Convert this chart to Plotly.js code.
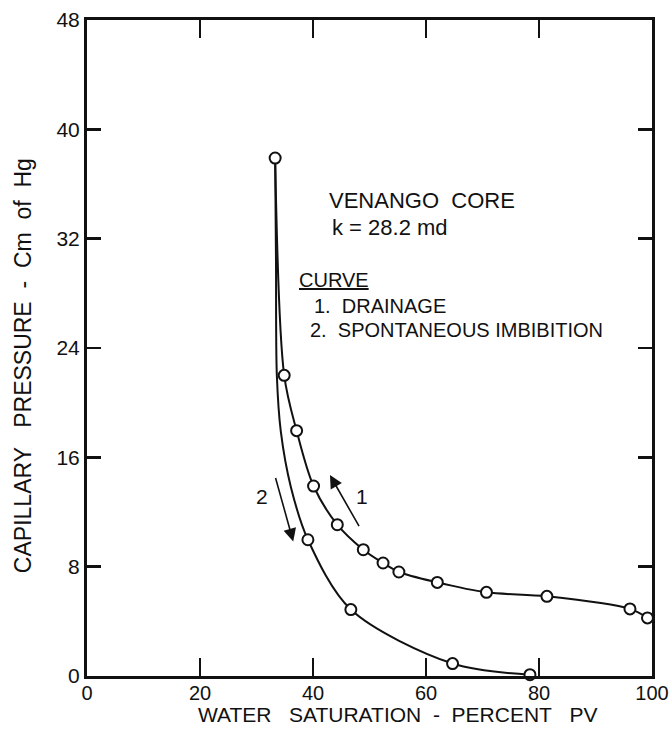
<!DOCTYPE html>
<html>
<head>
<meta charset="utf-8">
<script src="https://cdn.plot.ly/plotly-3.0.1.min.js"></script>
<style>
html,body{margin:0;padding:0;background:#fff;}
#chart{width:672px;height:730px;}
</style>
</head>
<body>
<div id="chart"></div>
<script>
// Measured points (water saturation %PV, capillary pressure cm Hg)
var drainageX = [33.3, 34.9, 37.1, 40.1, 44.3, 48.9, 52.4, 55.2, 62.0, 70.7, 81.4, 96.1, 99.2];
var drainageY = [37.9, 22.0, 17.95, 13.9, 11.07, 9.24, 8.27, 7.61, 6.85, 6.12, 5.83, 4.91, 4.25];

var imbibitionX = [39.1, 46.7, 64.7, 78.4];
var imbibitionY = [9.97, 4.86, 0.91, 0.1];

// Drawn imbibition curve
var imbCurveX = [33.3, 33.45, 33.6, 34.3, 36.1, 39.1, 46.7, 64.7, 78.4];
var imbCurveY = [37.9, 30.4, 22.0, 17.9, 13.8, 9.97, 4.86, 0.91, 0.1];

var xTicks = [0, 20, 40, 60, 80, 100];
var yTicks = [0, 8, 16, 24, 32, 40, 48];

var FONT = 'Liberation Sans, Arial, Helvetica, sans-serif';

var traces = [
  {x: imbCurveX, y: imbCurveY, mode: 'lines', type: 'scatter',
   line: {color: '#111', width: 2, shape: 'spline', smoothing: 0.9},
   hoverinfo: 'skip', cliponaxis: false},
  {x: drainageX, y: drainageY, mode: 'lines+markers', type: 'scatter',
   name: '1. DRAINAGE',
   line: {color: '#111', width: 2, shape: 'spline', smoothing: 0.9},
   marker: {symbol: 'circle', size: 11, color: '#fff', line: {color: '#111', width: 2}},
   cliponaxis: false},
  {x: imbibitionX, y: imbibitionY, mode: 'markers', type: 'scatter',
   name: '2. SPONTANEOUS IMBIBITION',
   marker: {symbol: 'circle', size: 11, color: '#fff', line: {color: '#111', width: 2}},
   cliponaxis: false}
];

var layout = {
  width: 672, height: 730,
  margin: {l: 87, r: 20, t: 20, b: 54},
  paper_bgcolor: '#fff', plot_bgcolor: '#fff',
  showlegend: false,
  font: {family: FONT, color: '#111', size: 21},
  xaxis: {
    range: [0, 100], tickvals: xTicks, ticktext: xTicks.map(String),
    ticks: 'inside', ticklen: 18, tickwidth: 2.5, tickcolor: '#111',
    showline: true, linewidth: 3, linecolor: '#111', mirror: 'ticks',
    showgrid: false, zeroline: false, fixedrange: true,
    ticklabelstandoff: -3,
    tickfont: {family: FONT, size: 20, color: '#111'}
  },
  yaxis: {
    range: [0, 48], tickvals: yTicks, ticktext: yTicks.map(String),
    ticks: 'inside', ticklen: 14, tickwidth: 2.5, tickcolor: '#111',
    showline: true, linewidth: 3, linecolor: '#111', mirror: 'ticks',
    showgrid: false, zeroline: false, fixedrange: true,
    tickfont: {family: FONT, size: 21, color: '#111'}
  },
  annotations: [
    {xref: 'paper', yref: 'paper', x: 0.55, y: -0.0795, yanchor: 'bottom', xanchor: 'center',
     showarrow: false, text: 'WATER&nbsp;&nbsp; SATURATION&nbsp; -&nbsp; PERCENT&nbsp;&nbsp; PV',
     font: {family: FONT, size: 21, color: '#111'}},
    {xref: 'paper', yref: 'paper', x: -0.113, y: 0.4726, xanchor: 'center', yanchor: 'middle',
     showarrow: false, textangle: -90, text: 'CAPILLARY&nbsp;&nbsp; PRESSURE&nbsp; -&nbsp; Cm&nbsp; of&nbsp; Hg',
     font: {family: FONT, size: 23, color: '#111'}},
    {xref: 'x', yref: 'y', x: 42.5, y: 34.8, xanchor: 'left', yanchor: 'middle', showarrow: false,
     text: 'VENANGO&nbsp; CORE', font: {family: FONT, size: 22, color: '#111'}},
    {xref: 'x', yref: 'y', x: 43.0, y: 32.8, xanchor: 'left', yanchor: 'middle', showarrow: false,
     text: 'k = 28.2 md', font: {family: FONT, size: 22, color: '#111'}},
    {xref: 'x', yref: 'y', x: 37.2, y: 29.0, xanchor: 'left', yanchor: 'middle', showarrow: false,
     text: '<u>CURVE</u>', font: {family: FONT, size: 20, color: '#111'}},
    {xref: 'x', yref: 'y', x: 39.8, y: 27.1, xanchor: 'left', yanchor: 'middle', showarrow: false,
     text: '1.&nbsp; DRAINAGE', font: {family: FONT, size: 20, color: '#111'}},
    {xref: 'x', yref: 'y', x: 39.1, y: 25.3, xanchor: 'left', yanchor: 'middle', showarrow: false,
     text: '2.&nbsp; SPONTANEOUS IMBIBITION', font: {family: FONT, size: 20, color: '#111'}},
    // direction arrows
    {xref: 'x', yref: 'y', axref: 'x', ayref: 'y', x: 43.0, y: 14.7, ax: 48.3, ay: 10.85,
     showarrow: true, arrowhead: 2, arrowsize: 1.6, arrowwidth: 1.6, arrowcolor: '#111', text: ''},
    {xref: 'x', yref: 'y', axref: 'x', ayref: 'y', x: 36.5, y: 9.85, ax: 33.3, ay: 14.6,
     showarrow: true, arrowhead: 2, arrowsize: 1.6, arrowwidth: 1.6, arrowcolor: '#111', text: ''},
    {xref: 'x', yref: 'y', x: 48.6, y: 13.1, showarrow: false, text: '1',
     font: {family: FONT, size: 21, color: '#111'}},
    {xref: 'x', yref: 'y', x: 31.0, y: 13.1, showarrow: false, text: '2',
     font: {family: FONT, size: 21, color: '#111'}}
  ]
};

Plotly.newPlot('chart', traces, layout, {staticPlot: true, displayModeBar: false});
</script>
</body>
</html>
